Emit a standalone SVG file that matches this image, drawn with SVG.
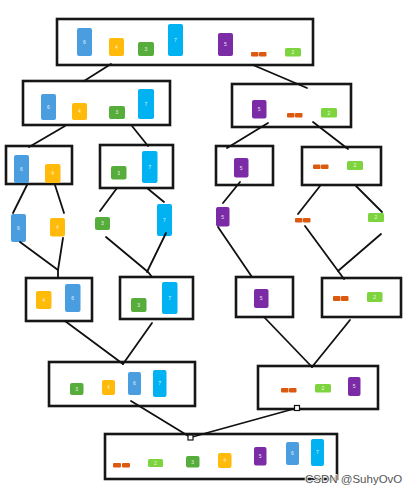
<svg xmlns="http://www.w3.org/2000/svg" width="418" height="494" viewBox="0 0 418 494">
<style>
.box{fill:#fff;stroke:#161616;stroke-width:2.6}
.c{fill:none;stroke:#111;stroke-width:1.8;stroke-linecap:round}
.b6{fill:#4a9ee0}.b4{fill:#ffba0a}.b3{fill:#56ad3c}.b7{fill:#00b2f2}.b5{fill:#7b2ba5}.b2{fill:#7ed43e}.b1{fill:#dc5a10}
.t{font-family:"Liberation Sans",Arial,sans-serif;font-size:5px;fill:#fff;text-anchor:middle;opacity:.85}
.h{fill:#fff;stroke:#111;stroke-width:1.2}
.wm{font-family:"Liberation Sans",Arial,sans-serif;font-size:11.5px;fill:#555;stroke:#fff;stroke-width:1.5;paint-order:stroke}
</style>
<rect width="418" height="494" fill="#fff"/>
<g id="n0">
<rect class="box" x="57" y="19" width="256" height="46"/>
<rect class="b6" x="77" y="28" width="15" height="28" rx="2"/><text class="t" x="84.5" y="44">6</text>
<rect class="b4" x="109" y="38" width="15" height="18" rx="2"/><text class="t" x="116.5" y="49">4</text>
<rect class="b3" x="138" y="42" width="16" height="14" rx="2"/><text class="t" x="146" y="51">3</text>
<rect class="b7" x="168" y="24" width="15" height="32" rx="2"/><text class="t" x="175.5" y="42">7</text>
<rect class="b5" x="218" y="33" width="15" height="23" rx="2"/><text class="t" x="225.5" y="46">5</text>
<rect class="b1" x="251" y="52" width="7.5" height="4.5" rx="1"/><rect class="b1" x="259" y="52" width="7.5" height="4.5" rx="1"/>
<rect class="b2" x="285" y="48" width="16" height="8.5" rx="1.5"/><text class="t" x="293" y="54">2</text>
</g>
<g id="n1">
<rect class="box" x="23" y="81" width="147" height="44"/>
<rect class="b6" x="41" y="94" width="15" height="26" rx="2"/><text class="t" x="48.5" y="109">6</text>
<rect class="b4" x="72" y="103" width="15" height="17" rx="2"/><text class="t" x="79.5" y="113">4</text>
<rect class="b3" x="109" y="106" width="16" height="13" rx="2"/><text class="t" x="117" y="114">3</text>
<rect class="b7" x="138" y="89" width="16" height="30" rx="2"/><text class="t" x="146" y="106">7</text>
</g>
<g id="n2">
<rect class="box" x="232" y="84" width="119" height="43"/>
<rect class="b5" x="252" y="100" width="14.5" height="18.5" rx="2"/><text class="t" x="259.2" y="111">5</text>
<rect class="b1" x="287" y="113" width="7.5" height="4.5" rx="1"/><rect class="b1" x="295" y="113" width="7.5" height="4.5" rx="1"/>
<rect class="b2" x="321" y="108" width="16" height="9.5" rx="1.5"/><text class="t" x="329" y="114.5">2</text>
</g>
<g id="nA">
<rect class="box" x="6" y="146" width="66" height="38"/>
<rect class="b6" x="14" y="155" width="15" height="28" rx="2"/><text class="t" x="21.5" y="171">6</text>
<rect class="b4" x="45" y="164" width="15.5" height="19" rx="2"/><text class="t" x="52.7" y="175">4</text>
</g>
<g id="nB">
<rect class="box" x="100" y="145" width="73" height="43"/>
<rect class="b3" x="111" y="166" width="15.5" height="13.5" rx="2"/><text class="t" x="118.7" y="174.5">3</text>
<rect class="b7" x="142" y="151" width="15.5" height="32" rx="2"/><text class="t" x="149.7" y="169">7</text>
</g>
<g id="nE">
<rect class="box" x="216" y="146" width="57" height="39"/>
<rect class="b5" x="234" y="158" width="14.5" height="19.5" rx="2"/><text class="t" x="241.2" y="169.5">5</text>
</g>
<g id="nF">
<rect class="box" x="302" y="147" width="79" height="38"/>
<rect class="b1" x="313" y="164.5" width="7.5" height="4.5" rx="1"/><rect class="b1" x="321" y="164.5" width="7.5" height="4.5" rx="1"/>
<rect class="b2" x="347" y="161" width="16" height="9" rx="1.5"/><text class="t" x="355" y="167.3">2</text>
</g>
<g id="l6">
<rect class="b6" x="11" y="214" width="15" height="28" rx="2"/><text class="t" x="18.5" y="230">6</text>
</g>
<g id="l4">
<rect class="b4" x="50" y="218" width="15" height="18.5" rx="2"/><text class="t" x="57.5" y="229">4</text>
</g>
<g id="l3">
<rect class="b3" x="95" y="217" width="15" height="13" rx="2"/><text class="t" x="102.5" y="225.3">3</text>
</g>
<g id="l7">
<rect class="b7" x="157" y="204" width="15" height="32" rx="2"/><text class="t" x="164.5" y="222">7</text>
</g>
<g id="l5">
<rect class="b5" x="216" y="207" width="13.5" height="19.5" rx="2"/><text class="t" x="222.7" y="218.5">5</text>
</g>
<g id="l1">
<rect class="b1" x="295" y="218" width="7.5" height="4.5" rx="1"/><rect class="b1" x="303" y="218" width="7.5" height="4.5" rx="1"/>
</g>
<g id="l2">
<rect class="b2" x="368" y="213" width="16" height="9" rx="1.5"/><text class="t" x="376" y="219.3">2</text>
</g>
<g id="nC">
<rect class="box" x="26" y="278" width="66" height="43"/>
<rect class="b4" x="36" y="291" width="15.5" height="18" rx="2"/><text class="t" x="43.7" y="301.5">4</text>
<rect class="b6" x="65" y="284" width="15.5" height="28" rx="2"/><text class="t" x="72.7" y="299.5">6</text>
</g>
<g id="nD">
<rect class="box" x="120" y="277" width="73" height="42"/>
<rect class="b3" x="131" y="298" width="15.5" height="14" rx="2"/><text class="t" x="138.7" y="306.5">3</text>
<rect class="b7" x="162" y="282" width="15.5" height="32" rx="2"/><text class="t" x="169.7" y="299.5">7</text>
</g>
<g id="nG">
<rect class="box" x="236" y="277" width="57" height="40"/>
<rect class="b5" x="254" y="289" width="14.5" height="19" rx="2"/><text class="t" x="261.2" y="300">5</text>
</g>
<g id="nH">
<rect class="box" x="322" y="278" width="79" height="39"/>
<rect class="b1" x="333" y="296" width="7.5" height="5" rx="1"/><rect class="b1" x="341" y="296" width="7.5" height="5" rx="1"/>
<rect class="b2" x="367" y="292" width="15.5" height="10" rx="1.5"/><text class="t" x="374.7" y="298.8">2</text>
</g>
<g id="nI">
<rect class="box" x="49" y="362" width="146" height="44"/>
<rect class="b3" x="70" y="383" width="13.5" height="12" rx="2"/><text class="t" x="76.7" y="390.5">3</text>
<rect class="b4" x="102" y="380" width="13" height="15" rx="2"/><text class="t" x="108.5" y="389">4</text>
<rect class="b6" x="128" y="372" width="13" height="23" rx="2"/><text class="t" x="134.5" y="385">6</text>
<rect class="b7" x="153" y="370" width="13.5" height="27" rx="2"/><text class="t" x="159.7" y="385">7</text>
</g>
<g id="nJ">
<rect class="box" x="258" y="366" width="120" height="43"/>
<rect class="b1" x="281" y="388" width="7.5" height="4.5" rx="1"/><rect class="b1" x="289" y="388" width="7.5" height="4.5" rx="1"/>
<rect class="b2" x="315" y="384" width="16" height="8.5" rx="1.5"/><text class="t" x="323" y="390">2</text>
<rect class="b5" x="348" y="377" width="12.5" height="19" rx="2"/><text class="t" x="354.2" y="388">5</text>
</g>
<g id="nK">
<rect class="box" x="105" y="434" width="232" height="45"/>
<rect class="b1" x="113" y="463" width="8" height="4.5" rx="1"/><rect class="b1" x="122" y="463" width="8" height="4.5" rx="1"/>
<rect class="b2" x="148" y="459" width="15" height="8" rx="1.5"/><text class="t" x="155.5" y="465">2</text>
<rect class="b3" x="186" y="456" width="13.5" height="11.5" rx="2"/><text class="t" x="192.7" y="463.5">3</text>
<rect class="b4" x="218" y="453" width="13.5" height="15" rx="2"/><text class="t" x="224.7" y="462">4</text>
<rect class="b5" x="254" y="447" width="12.5" height="18.5" rx="2"/><text class="t" x="260.2" y="458">5</text>
<rect class="b6" x="286" y="442" width="13" height="23" rx="2"/><text class="t" x="292.5" y="455">6</text>
<rect class="b7" x="311" y="439" width="13" height="27" rx="2"/><text class="t" x="317.5" y="454">7</text>
</g>
<g id="connectors">
<line class="c" x1="111" y1="64" x2="84" y2="81"/>
<line class="c" x1="253" y1="65" x2="307" y2="88"/>
<line class="c" x1="65" y1="126" x2="29" y2="147"/>
<line class="c" x1="132" y1="126" x2="148" y2="146"/>
<line class="c" x1="268" y1="123" x2="227" y2="148"/>
<line class="c" x1="313" y1="122" x2="348" y2="149"/>
<line class="c" x1="27" y1="185" x2="13" y2="213"/>
<line class="c" x1="55" y1="185" x2="64" y2="213"/>
<line class="c" x1="117" y1="188" x2="100" y2="211"/>
<line class="c" x1="147" y1="188" x2="164" y2="202"/>
<line class="c" x1="240" y1="182" x2="223" y2="203"/>
<line class="c" x1="320" y1="186" x2="298" y2="214"/>
<line class="c" x1="356" y1="186" x2="382" y2="212"/>
<polyline class="c" points="20,242 58,270 58,278"/>
<line class="c" x1="63" y1="238" x2="58" y2="270"/>
<polyline class="c" points="106,237 148,272 152,277"/>
<line class="c" x1="166" y1="233" x2="147" y2="272"/>
<line class="c" x1="218" y1="227" x2="252" y2="277"/>
<line class="c" x1="305" y1="226" x2="344" y2="279"/>
<line class="c" x1="381" y1="234" x2="338" y2="271"/>
<line class="c" x1="65" y1="321" x2="123" y2="364"/>
<line class="c" x1="152" y1="323" x2="123" y2="364"/>
<line class="c" x1="264" y1="317" x2="312" y2="367"/>
<line class="c" x1="350" y1="320" x2="312" y2="367"/>
<line class="c" x1="131" y1="401" x2="190" y2="437"/>
<line class="c" x1="297" y1="408" x2="192" y2="437"/>
<rect class="h" x="294.5" y="405.5" width="5" height="5"/>
<rect class="h" x="188" y="435" width="5" height="5"/>
</g>
<text class="wm" x="305" y="483">CSDN @SuhyOvO</text>
</svg>
